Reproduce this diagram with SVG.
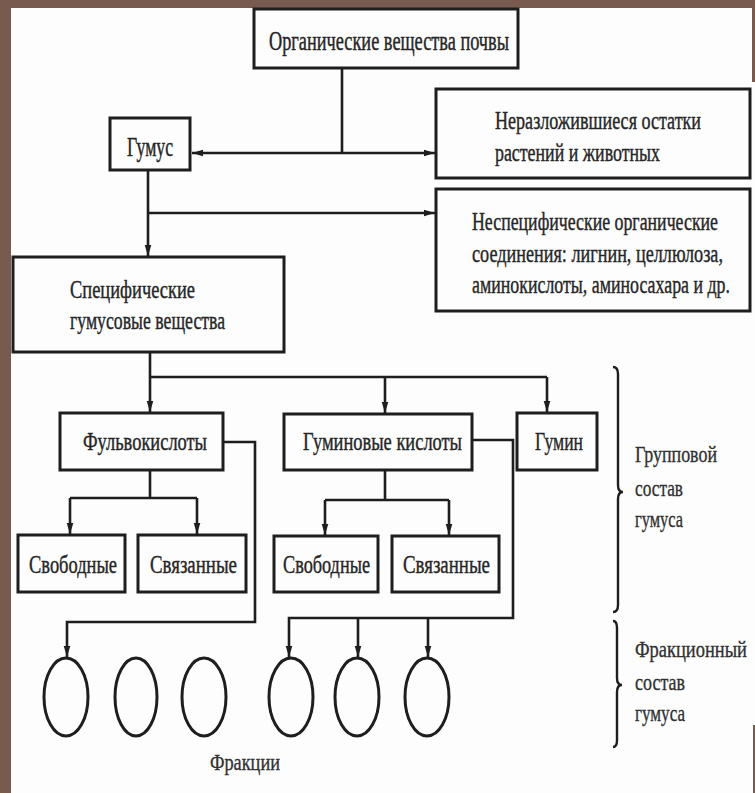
<svg xmlns="http://www.w3.org/2000/svg" width="755" height="793" viewBox="0 0 755 793">
<style>
.bx{fill:#fdfdfd;stroke:#1e1e1e;stroke-width:3}
.t{font-family:"Liberation Serif","Times New Roman",serif;font-size:19px;fill:#262626;stroke:#262626;stroke-width:0.3}
.s{font-family:"Liberation Serif","Times New Roman",serif;font-size:17px;fill:#303030;stroke:#303030;stroke-width:0.25}
.c{fill:none;stroke:#1e1e1e;stroke-width:2.6}
.ci{fill:none;stroke:#1e1e1e;stroke-width:3}
.br{fill:none;stroke:#1e1e1e;stroke-width:2.4}
</style>
<defs>
<marker id="ar" markerUnits="userSpaceOnUse" markerWidth="12" markerHeight="8" refX="11" refY="4" orient="auto-start-reverse">
<path d="M0,0.7 L11,4 L0,7.3 z" fill="#1e1e1e"/>
</marker>
</defs>
<rect x="0" y="0" width="755" height="793" fill="#785a4f"/>
<rect x="11" y="8" width="744" height="785" fill="#fdfdfd"/>
<rect x="752" y="0" width="3" height="82" fill="#785a4f"/>
<rect x="753" y="725" width="2" height="68" fill="#785a4f"/>

<g id="connectors">
<path class="c" d="M342,68 V153"/>
<path class="c" d="M192,153 H435" marker-start="url(#ar)" marker-end="url(#ar)"/>
<path class="c" d="M148,170 V256" marker-end="url(#ar)"/>
<path class="c" d="M148,213 H435" marker-end="url(#ar)"/>
<path class="c" d="M150,352 V412" marker-end="url(#ar)"/>
<path class="c" d="M150,377 H547"/>
<path class="c" d="M385,377 V413" marker-end="url(#ar)"/>
<path class="c" d="M547,377 V412" marker-end="url(#ar)"/>
<path class="c" d="M150,470 V498"/>
<path class="c" d="M70,498 H197"/>
<path class="c" d="M70,498 V534" marker-end="url(#ar)"/>
<path class="c" d="M197,498 V534" marker-end="url(#ar)"/>
<path class="c" d="M385,470 V500"/>
<path class="c" d="M325,500 H449"/>
<path class="c" d="M325,500 V535" marker-end="url(#ar)"/>
<path class="c" d="M449,500 V535" marker-end="url(#ar)"/>
<path class="c" d="M223,442 H255 V622 H67 V657" marker-end="url(#ar)"/>
<path class="c" d="M472,440 H513 V618 H289 V657" marker-end="url(#ar)"/>
<path class="c" d="M358,618 V657" marker-end="url(#ar)"/>
<path class="c" d="M428,618 V657" marker-end="url(#ar)"/>
</g>

<g id="n-organic">
<rect class="bx" x="254" y="9" width="264" height="59"/>
<text class="t" transform="translate(269,50) scale(1,1.4)" textLength="240" lengthAdjust="spacingAndGlyphs">Органические вещества почвы</text>
</g>
<g id="n-humus">
<rect class="bx" x="110" y="118" width="80" height="52"/>
<text class="t" transform="translate(127,156) scale(1,1.4)" textLength="46" lengthAdjust="spacingAndGlyphs">Гумус</text>
</g>
<g id="n-residues">
<rect class="bx" x="436" y="89" width="314" height="89"/>
<text class="t" transform="translate(495,129) scale(1,1.38)" textLength="206" lengthAdjust="spacingAndGlyphs">Неразложившиеся остатки</text>
<text class="t" transform="translate(495,161) scale(1,1.38)" textLength="165" lengthAdjust="spacingAndGlyphs">растений и животных</text>
</g>
<g id="n-nonspecific">
<rect class="bx" x="436" y="189" width="314" height="122"/>
<text class="t" transform="translate(472,230) scale(1,1.38)" textLength="246" lengthAdjust="spacingAndGlyphs">Неспецифические органические</text>
<text class="t" transform="translate(472,262) scale(1,1.38)" textLength="251" lengthAdjust="spacingAndGlyphs">соединения: лигнин, целлюлоза,</text>
<text class="t" transform="translate(472,293) scale(1,1.38)" textLength="258" lengthAdjust="spacingAndGlyphs">аминокислоты, аминосахара и др.</text>
</g>
<g id="n-specific">
<rect class="bx" x="13" y="257" width="271" height="95"/>
<text class="t" transform="translate(70,298) scale(1,1.38)" textLength="125" lengthAdjust="spacingAndGlyphs">Специфические</text>
<text class="t" transform="translate(70,329) scale(1,1.38)" textLength="155" lengthAdjust="spacingAndGlyphs">гумусовые вещества</text>
</g>
<g id="n-fulvic">
<rect class="bx" x="60" y="413" width="163" height="57"/>
<text class="t" transform="translate(83,450) scale(1,1.38)" textLength="124" lengthAdjust="spacingAndGlyphs">Фульвокислоты</text>
</g>
<g id="n-humic">
<rect class="bx" x="284" y="414" width="188" height="56"/>
<text class="t" transform="translate(303,450) scale(1,1.38)" textLength="159" lengthAdjust="spacingAndGlyphs">Гуминовые кислоты</text>
</g>
<g id="n-humin">
<rect class="bx" x="517" y="413" width="80" height="57"/>
<text class="t" transform="translate(535,450) scale(1,1.38)" textLength="48" lengthAdjust="spacingAndGlyphs">Гумин</text>
</g>
<g id="n-free1">
<rect class="bx" x="18" y="535" width="107" height="57"/>
<text class="t" transform="translate(29,573) scale(1,1.38)" textLength="88" lengthAdjust="spacingAndGlyphs">Свободные</text>
</g>
<g id="n-bound1">
<rect class="bx" x="138" y="535" width="108" height="57"/>
<text class="t" transform="translate(150,573) scale(1,1.38)" textLength="87" lengthAdjust="spacingAndGlyphs">Связанные</text>
</g>
<g id="n-free2">
<rect class="bx" x="274" y="536" width="104" height="56"/>
<text class="t" transform="translate(283,573) scale(1,1.38)" textLength="87" lengthAdjust="spacingAndGlyphs">Свободные</text>
</g>
<g id="n-bound2">
<rect class="bx" x="392" y="536" width="107" height="56"/>
<text class="t" transform="translate(403,573) scale(1,1.38)" textLength="87" lengthAdjust="spacingAndGlyphs">Связанные</text>
</g>

<g id="fractions">
<ellipse class="ci" cx="66" cy="697" rx="22" ry="39"/>
<ellipse class="ci" cx="136" cy="697" rx="21" ry="39"/>
<ellipse class="ci" cx="204" cy="697" rx="22" ry="39"/>
<ellipse class="ci" cx="291" cy="697" rx="22" ry="39"/>
<ellipse class="ci" cx="357" cy="697" rx="22" ry="39"/>
<ellipse class="ci" cx="427" cy="697" rx="22" ry="39"/>
<text class="s" transform="translate(210,770) scale(1,1.35)" textLength="70" lengthAdjust="spacingAndGlyphs">Фракции</text>
</g>

<g id="group-brace">
<path class="br" d="M613,367 Q618,367 618,374 V485 Q618,492 623,492 Q618,492 618,499 V605 Q618,612 613,612"/>
<text class="s" transform="translate(635,462) scale(1,1.35)" textLength="82" lengthAdjust="spacingAndGlyphs">Групповой</text>
<text class="s" transform="translate(635,496) scale(1,1.35)" textLength="48" lengthAdjust="spacingAndGlyphs">состав</text>
<text class="s" transform="translate(635,527) scale(1,1.35)" textLength="48" lengthAdjust="spacingAndGlyphs">гумуса</text>
</g>
<g id="fraction-brace">
<path class="br" d="M613,621 Q617,621 617,628 V678 Q617,685 622,685 Q617,685 617,692 V740 Q617,747 613,747"/>
<text class="s" transform="translate(635,657) scale(1,1.35)" textLength="112" lengthAdjust="spacingAndGlyphs">Фракционный</text>
<text class="s" transform="translate(635,690) scale(1,1.35)" textLength="50" lengthAdjust="spacingAndGlyphs">состав</text>
<text class="s" transform="translate(635,721) scale(1,1.35)" textLength="50" lengthAdjust="spacingAndGlyphs">гумуса</text>
</g>
</svg>
